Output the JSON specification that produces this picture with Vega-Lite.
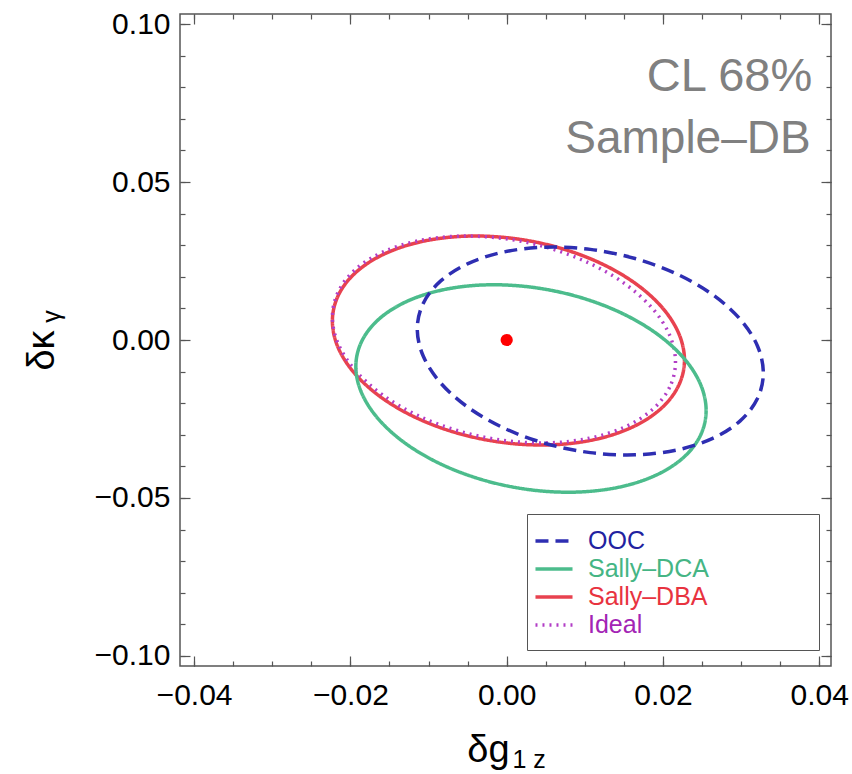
{
  "$schema": "https://vega.github.io/schema/vega-lite/v6.json",
  "width": 651,
  "height": 652,
  "autosize": {"type": "none"},
  "padding": {"left": 180, "top": 14, "right": 21, "bottom": 108},
  "background": "white",
  "config": {
    "view": {"stroke": "#555555", "strokeWidth": 1.5},
    "axis": {"domain": false, "grid": false, "tickColor": "#555555", "tickWidth": 1.2, "labelFont": "Liberation Sans", "labelFontSize": 30, "labelColor": "#000000", "titleFont": "Liberation Sans", "titleColor": "#000000", "titleFontWeight": "normal"},
    "text": {"font": "Liberation Sans"}
  },
  "datasets": {
    "curves": [
      {"series": "Sally–DBA", "i": 1, "g1z": 0.02275, "kg": -0.00633},
      {"series": "Sally–DBA", "i": 2, "g1z": 0.02198, "kg": -0.01453},
      {"series": "Sally–DBA", "i": 3, "g1z": 0.01973, "kg": -0.02175},
      {"series": "Sally–DBA", "i": 4, "g1z": 0.01615, "kg": -0.02750},
      {"series": "Sally–DBA", "i": 5, "g1z": 0.01149, "kg": -0.03139},
      {"series": "Sally–DBA", "i": 6, "g1z": 0.00605, "kg": -0.03315},
      {"series": "Sally–DBA", "i": 7, "g1z": 0.00022, "kg": -0.03266},
      {"series": "Sally–DBA", "i": 8, "g1z": -0.00561, "kg": -0.02995},
      {"series": "Sally–DBA", "i": 9, "g1z": -0.01104, "kg": -0.02522},
      {"series": "Sally–DBA", "i": 10, "g1z": -0.01570, "kg": -0.01878},
      {"series": "Sally–DBA", "i": 11, "g1z": -0.01928, "kg": -0.01106},
      {"series": "Sally–DBA", "i": 12, "g1z": -0.02153, "kg": -0.00261},
      {"series": "Sally–DBA", "i": 13, "g1z": -0.02230, "kg": 0.00601},
      {"series": "Sally–DBA", "i": 14, "g1z": -0.02153, "kg": 0.01421},
      {"series": "Sally–DBA", "i": 15, "g1z": -0.01928, "kg": 0.02144},
      {"series": "Sally–DBA", "i": 16, "g1z": -0.01570, "kg": 0.02719},
      {"series": "Sally–DBA", "i": 17, "g1z": -0.01104, "kg": 0.03107},
      {"series": "Sally–DBA", "i": 18, "g1z": -0.00561, "kg": 0.03283},
      {"series": "Sally–DBA", "i": 19, "g1z": 0.00022, "kg": 0.03234},
      {"series": "Sally–DBA", "i": 20, "g1z": 0.00605, "kg": 0.02964},
      {"series": "Sally–DBA", "i": 21, "g1z": 0.01149, "kg": 0.02490},
      {"series": "Sally–DBA", "i": 22, "g1z": 0.01615, "kg": 0.01846},
      {"series": "Sally–DBA", "i": 23, "g1z": 0.01973, "kg": 0.01075},
      {"series": "Sally–DBA", "i": 24, "g1z": 0.02198, "kg": 0.00229},

      {"series": "Ideal", "i": 1, "g1z": 0.02160, "kg": -0.00696},
      {"series": "Ideal", "i": 2, "g1z": 0.02085, "kg": -0.01499},
      {"series": "Ideal", "i": 3, "g1z": 0.01866, "kg": -0.02199},
      {"series": "Ideal", "i": 4, "g1z": 0.01517, "kg": -0.02748},
      {"series": "Ideal", "i": 5, "g1z": 0.01062, "kg": -0.03108},
      {"series": "Ideal", "i": 6, "g1z": 0.00533, "kg": -0.03256},
      {"series": "Ideal", "i": 7, "g1z": -0.00035, "kg": -0.03180},
      {"series": "Ideal", "i": 8, "g1z": -0.00603, "kg": -0.02887},
      {"series": "Ideal", "i": 9, "g1z": -0.01133, "kg": -0.02396},
      {"series": "Ideal", "i": 10, "g1z": -0.01587, "kg": -0.01741},
      {"series": "Ideal", "i": 11, "g1z": -0.01936, "kg": -0.00966},
      {"series": "Ideal", "i": 12, "g1z": -0.02155, "kg": -0.00124},
      {"series": "Ideal", "i": 13, "g1z": -0.02230, "kg": 0.00728},
      {"series": "Ideal", "i": 14, "g1z": -0.02155, "kg": 0.01531},
      {"series": "Ideal", "i": 15, "g1z": -0.01936, "kg": 0.02231},
      {"series": "Ideal", "i": 16, "g1z": -0.01587, "kg": 0.02779},
      {"series": "Ideal", "i": 17, "g1z": -0.01133, "kg": 0.03140},
      {"series": "Ideal", "i": 18, "g1z": -0.00603, "kg": 0.03287},
      {"series": "Ideal", "i": 19, "g1z": -0.00035, "kg": 0.03212},
      {"series": "Ideal", "i": 20, "g1z": 0.00533, "kg": 0.02919},
      {"series": "Ideal", "i": 21, "g1z": 0.01062, "kg": 0.02428},
      {"series": "Ideal", "i": 22, "g1z": 0.01517, "kg": 0.01772},
      {"series": "Ideal", "i": 23, "g1z": 0.01866, "kg": 0.00997},
      {"series": "Ideal", "i": 24, "g1z": 0.02085, "kg": 0.00155},

      {"series": "Sally–DCA", "i": 1, "g1z": 0.02552, "kg": -0.02231},
      {"series": "Sally–DCA", "i": 2, "g1z": 0.02476, "kg": -0.03038},
      {"series": "Sally–DCA", "i": 3, "g1z": 0.02252, "kg": -0.03742},
      {"series": "Sally–DCA", "i": 4, "g1z": 0.01896, "kg": -0.04296},
      {"series": "Sally–DCA", "i": 5, "g1z": 0.01432, "kg": -0.04662},
      {"series": "Sally–DCA", "i": 6, "g1z": 0.00891, "kg": -0.04815},
      {"series": "Sally–DCA", "i": 7, "g1z": 0.00311, "kg": -0.04744},
      {"series": "Sally–DCA", "i": 8, "g1z": -0.00269, "kg": -0.04454},
      {"series": "Sally–DCA", "i": 9, "g1z": -0.00809, "kg": -0.03966},
      {"series": "Sally–DCA", "i": 10, "g1z": -0.01273, "kg": -0.03312},
      {"series": "Sally–DCA", "i": 11, "g1z": -0.01629, "kg": -0.02536},
      {"series": "Sally–DCA", "i": 12, "g1z": -0.01853, "kg": -0.01693},
      {"series": "Sally–DCA", "i": 13, "g1z": -0.01930, "kg": -0.00839},
      {"series": "Sally–DCA", "i": 14, "g1z": -0.01853, "kg": -0.00032},
      {"series": "Sally–DCA", "i": 15, "g1z": -0.01629, "kg": 0.00673},
      {"series": "Sally–DCA", "i": 16, "g1z": -0.01273, "kg": 0.01227},
      {"series": "Sally–DCA", "i": 17, "g1z": -0.00809, "kg": 0.01592},
      {"series": "Sally–DCA", "i": 18, "g1z": -0.00269, "kg": 0.01745},
      {"series": "Sally–DCA", "i": 19, "g1z": 0.00311, "kg": 0.01674},
      {"series": "Sally–DCA", "i": 20, "g1z": 0.00891, "kg": 0.01385},
      {"series": "Sally–DCA", "i": 21, "g1z": 0.01432, "kg": 0.00896},
      {"series": "Sally–DCA", "i": 22, "g1z": 0.01896, "kg": 0.00242},
      {"series": "Sally–DCA", "i": 23, "g1z": 0.02252, "kg": -0.00533},
      {"series": "Sally–DCA", "i": 24, "g1z": 0.02476, "kg": -0.01377},

      {"series": "OOC", "i": 1, "g1z": 0.03284, "kg": -0.01044},
      {"series": "OOC", "i": 2, "g1z": 0.03209, "kg": -0.01853},
      {"series": "OOC", "i": 3, "g1z": 0.02988, "kg": -0.02559},
      {"series": "OOC", "i": 4, "g1z": 0.02636, "kg": -0.03115},
      {"series": "OOC", "i": 5, "g1z": 0.02177, "kg": -0.03482},
      {"series": "OOC", "i": 6, "g1z": 0.01643, "kg": -0.03635},
      {"series": "OOC", "i": 7, "g1z": 0.01070, "kg": -0.03565},
      {"series": "OOC", "i": 8, "g1z": 0.00497, "kg": -0.03275},
      {"series": "OOC", "i": 9, "g1z": -0.00037, "kg": -0.02786},
      {"series": "OOC", "i": 10, "g1z": -0.00495, "kg": -0.02130},
      {"series": "OOC", "i": 11, "g1z": -0.00847, "kg": -0.01354},
      {"series": "OOC", "i": 12, "g1z": -0.01068, "kg": -0.00508},
      {"series": "OOC", "i": 13, "g1z": -0.01144, "kg": 0.00348},
      {"series": "OOC", "i": 14, "g1z": -0.01068, "kg": 0.01157},
      {"series": "OOC", "i": 15, "g1z": -0.00847, "kg": 0.01863},
      {"series": "OOC", "i": 16, "g1z": -0.00495, "kg": 0.02419},
      {"series": "OOC", "i": 17, "g1z": -0.00037, "kg": 0.02786},
      {"series": "OOC", "i": 18, "g1z": 0.00497, "kg": 0.02939},
      {"series": "OOC", "i": 19, "g1z": 0.01070, "kg": 0.02869},
      {"series": "OOC", "i": 20, "g1z": 0.01643, "kg": 0.02579},
      {"series": "OOC", "i": 21, "g1z": 0.02177, "kg": 0.02090},
      {"series": "OOC", "i": 22, "g1z": 0.02636, "kg": 0.01434},
      {"series": "OOC", "i": 23, "g1z": 0.02988, "kg": 0.00657},
      {"series": "OOC", "i": 24, "g1z": 0.03209, "kg": -0.00188}
    ],
    "origin": [{"g1z": 0, "kg": 0}],
    "notes": [
      {"label": "CL 68%", "g1z": 0.0391, "kg": 0.0789},
      {"label": "Sample–DB", "g1z": 0.0389, "kg": 0.0592}
    ]
  },
  "layer": [
    {
      "data": {"name": "curves"},
      "mark": {"type": "line", "interpolate": "cardinal-closed"},
      "encoding": {
        "x": {"field": "g1z", "type": "quantitative", "scale": {"domain": [-0.0418, 0.0415], "nice": false, "zero": false},
          "axis": {"orient": "bottom", "values": [-0.04, -0.02, 0, 0.02, 0.04], "format": ".2f", "tickSize": -10, "labelPadding": 24, "title": "δg", "titleFontSize": 38, "titleX": 308, "titleY": 95, "titleAlign": "center", "titleBaseline": "alphabetic"}},
        "y": {"field": "kg", "type": "quantitative", "scale": {"domain": [-0.1032, 0.1032], "nice": false, "zero": false},
          "axis": {"orient": "left", "values": [-0.1, -0.05, 0, 0.05, 0.1], "format": ".2f", "tickSize": -10, "labelPadding": 20, "title": "δκ", "titleFontSize": 38, "titleAngle": -90, "titleX": -127, "titleY": 336, "titleAlign": "center", "titleBaseline": "alphabetic"}},
        "order": {"field": "i", "type": "quantitative"},
        "color": {"field": "series", "type": "nominal",
          "scale": {"domain": ["OOC", "Sally–DCA", "Sally–DBA", "Ideal"], "range": ["#2e2eb2", "#4cbc8c", "#e8424f", "#b23ec6"]},
          "legend": {"title": null, "orient": "none", "legendX": 347, "legendY": 500, "symbolType": "M-1.4,0H1.4", "symbolSize": 700, "symbolStrokeWidth": 4, "labelFont": "Liberation Sans", "labelFontSize": 25, "labelOffset": 19, "labelLimit": 400, "padding": 12, "rowPadding": 0, "strokeColor": "#555555", "fillColor": "white",
            "encode": {
              "labels": {"update": {
                "text": {"signal": "datum.label + '\u00a0\u00a0\u00a0\u00a0\u00a0\u00a0\u00a0\u00a0\u00a0\u00a0\u00a0\u00a0\u00a0\u00a0\u200b'"},
                "fill": {"signal": "datum.value === 'OOC' ? '#2222a0' : datum.value === 'Sally–DCA' ? '#45b584' : datum.value === 'Sally–DBA' ? '#e8333f' : '#a324b5'"}}},
              "symbols": {"update": {"strokeWidth": {"signal": "datum.value === 'Ideal' ? 2.6 : 4"}}}
            }}},
        "strokeDash": {"field": "series", "type": "nominal",
          "scale": {"domain": ["OOC", "Sally–DCA", "Sally–DBA", "Ideal"], "range": [[13, 7], [1, 0], [1, 0], [2, 5]]},
          "legend": {"title": null}},
        "strokeWidth": {"field": "series", "type": "nominal",
          "scale": {"domain": ["OOC", "Sally–DCA", "Sally–DBA", "Ideal"], "range": [3.5, 3.5, 3.5, 2.6]},
          "legend": null}
      }
    },
    {
      "data": {"name": "origin"},
      "mark": {"type": "circle", "size": 150, "color": "#ff0000", "opacity": 1},
      "encoding": {
        "x": {"field": "g1z", "type": "quantitative", "axis": {"orient": "top", "values": [-0.04, -0.02, 0, 0.02, 0.04], "tickSize": -10, "labels": false, "title": null}},
        "y": {"field": "kg", "type": "quantitative", "axis": {"orient": "right", "values": [-0.1, -0.05, 0, 0.05, 0.1], "tickSize": -10, "labels": false, "title": null}}
      }
    },
    {
      "data": {"name": "notes"},
      "transform": [{"filter": "datum.label === 'CL 68%'"}],
      "mark": {"type": "text", "align": "right", "baseline": "alphabetic", "fontSize": 47, "color": "#808080", "font": "Liberation Sans"},
      "encoding": {
        "x": {"field": "g1z", "type": "quantitative", "axis": {"orient": "bottom", "values": [-0.04, -0.035, -0.03, -0.025, -0.02, -0.015, -0.01, -0.005, 0, 0.005, 0.01, 0.015, 0.02, 0.025, 0.03, 0.035, 0.04], "tickSize": -5, "labels": false, "title": "1 z", "titleFontSize": 25, "titleX": 332, "titleY": 101, "titleAlign": "left", "titleBaseline": "alphabetic"}},
        "y": {"field": "kg", "type": "quantitative", "axis": {"orient": "left", "values": [-0.1, -0.09, -0.08, -0.07, -0.06, -0.05, -0.04, -0.03, -0.02, -0.01, 0, 0.01, 0.02, 0.03, 0.04, 0.05, 0.06, 0.07, 0.08, 0.09, 0.1], "tickSize": -5, "labels": false, "title": "γ", "titleFontSize": 25, "titleAngle": -90, "titleX": -121, "titleY": 302, "titleAlign": "center", "titleBaseline": "alphabetic"}},
        "text": {"field": "label", "type": "nominal"}
      }
    },
    {
      "data": {"name": "notes"},
      "transform": [{"filter": "datum.label !== 'CL 68%'"}],
      "mark": {"type": "text", "align": "right", "baseline": "alphabetic", "fontSize": 46, "color": "#808080", "font": "Liberation Sans"},
      "encoding": {
        "x": {"field": "g1z", "type": "quantitative", "axis": {"orient": "top", "values": [-0.04, -0.035, -0.03, -0.025, -0.02, -0.015, -0.01, -0.005, 0, 0.005, 0.01, 0.015, 0.02, 0.025, 0.03, 0.035, 0.04], "tickSize": -5, "labels": false, "title": null}},
        "y": {"field": "kg", "type": "quantitative", "axis": {"orient": "right", "values": [-0.1, -0.09, -0.08, -0.07, -0.06, -0.05, -0.04, -0.03, -0.02, -0.01, 0, 0.01, 0.02, 0.03, 0.04, 0.05, 0.06, 0.07, 0.08, 0.09, 0.1], "tickSize": -5, "labels": false, "title": null}},
        "text": {"field": "label", "type": "nominal"}
      }
    }
  ],
  "resolve": {"axis": {"x": "independent", "y": "independent"}}
}
